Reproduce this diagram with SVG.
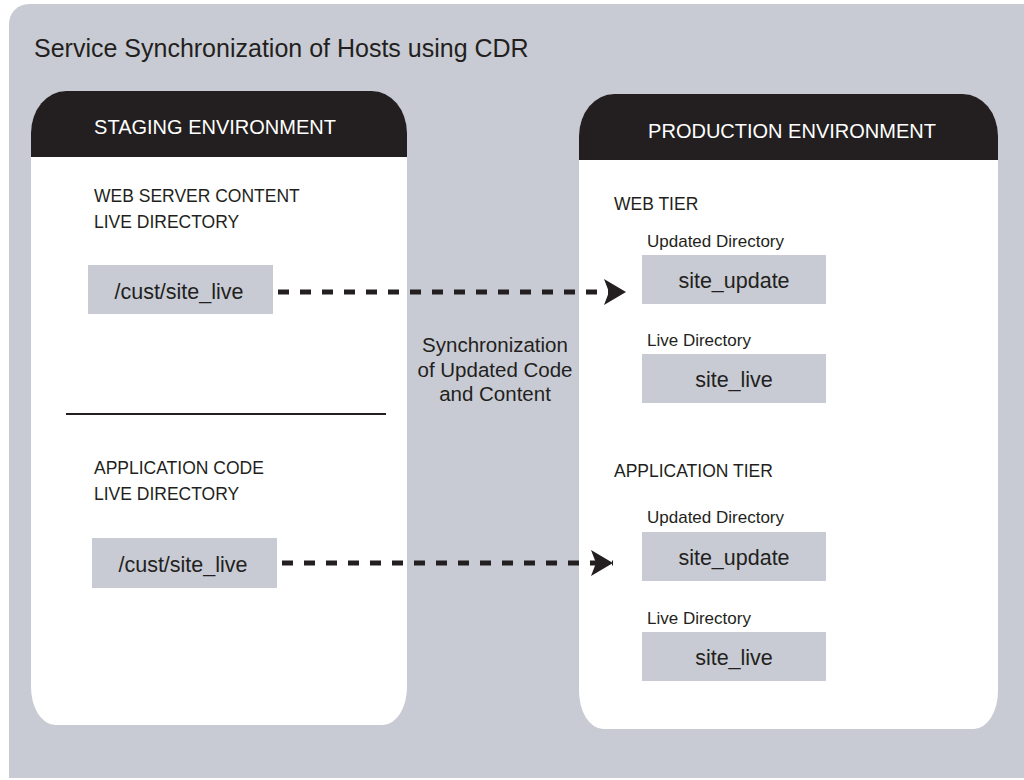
<svg xmlns="http://www.w3.org/2000/svg" width="1024" height="780" viewBox="0 0 1024 780">
  <defs>
    <style>
      text { font-family: "Liberation Sans", Arial, sans-serif; fill: #231f20; }
      .title { font-size: 25px; }
      .hdr { font-size: 20px; fill: #ffffff; text-anchor: middle; }
      .sec { font-size: 17.5px; }
      .lbl { font-size: 17px; }
      .box { fill: #c8cbd3; }
      .btxt { font-size: 21.5px; text-anchor: middle; }
      .sync { font-size: 20.5px; text-anchor: middle; }
      .panel { fill: #ffffff; }
      .head { fill: #231f20; }
      .dash { stroke: #231f20; stroke-width: 5; stroke-dasharray: 11 11; fill: none; }
    </style>
    <marker id="arrow" viewBox="0 0 22 26" refX="22" refY="13" markerWidth="22" markerHeight="26" markerUnits="userSpaceOnUse" orient="auto">
      <path d="M0,0 L22,13 L0,26 L5,13 Z" fill="#231f20"/>
    </marker>
  </defs>

  <path id="background" d="M9,24 A20,20 0 0 1 29,4 H1024 V778 H9 Z" fill="#c8cbd3"/>
  <text class="title" x="34" y="57">Service Synchronization of Hosts using CDR</text>

  <g id="staging">
    <path class="panel" d="M31,133 A35,42 0 0 1 66,91 H372 A35,42 0 0 1 407,133 V687 A24,38 0 0 1 383,725 H55 A24,38 0 0 1 31,687 Z"/>
    <path class="head" d="M31,157 V133 A35,42 0 0 1 66,91 H372 A35,42 0 0 1 407,133 V157 Z"/>
    <text class="hdr" x="215" y="134">STAGING ENVIRONMENT</text>
    <text class="sec" x="94" y="202">WEB SERVER CONTENT</text>
    <text class="sec" x="94" y="228">LIVE DIRECTORY</text>
    <line x1="66" y1="414" x2="386" y2="414" stroke="#231f20" stroke-width="2"/>
    <text class="sec" x="94" y="474">APPLICATION CODE</text>
    <text class="sec" x="94" y="500">LIVE DIRECTORY</text>
  </g>

  <g id="staging-web-dir">
    <rect class="box" x="88" y="265" width="185" height="49"/>
    <text class="btxt" x="179" y="299">/cust/site_live</text>
  </g>
  <g id="staging-app-dir">
    <rect class="box" x="92" y="538" width="185" height="50"/>
    <text class="btxt" x="183" y="572">/cust/site_live</text>
  </g>

  <g id="sync-label">
    <text class="sync" x="495" y="352">Synchronization</text>
    <text class="sync" x="495" y="377">of Updated Code</text>
    <text class="sync" x="495" y="401">and Content</text>
  </g>

  <g id="production">
    <path class="panel" d="M579,136 A35,42 0 0 1 614,94 H963 A35,42 0 0 1 998,136 V691 A24,38 0 0 1 974,729 H603 A24,38 0 0 1 579,691 Z"/>
    <path class="head" d="M579,160 V136 A35,42 0 0 1 614,94 H963 A35,42 0 0 1 998,136 V160 Z"/>
    <text class="hdr" x="792" y="138">PRODUCTION ENVIRONMENT</text>
    <text class="sec" x="614" y="210">WEB TIER</text>
    <text class="sec" x="614" y="477">APPLICATION TIER</text>
  </g>

  <g id="web-update">
    <text class="lbl" x="647" y="247">Updated Directory</text>
    <rect class="box" x="642" y="255" width="184" height="49"/>
    <text class="btxt" x="734" y="288">site_update</text>
  </g>
  <g id="web-live">
    <text class="lbl" x="647" y="346">Live Directory</text>
    <rect class="box" x="642" y="354" width="184" height="49"/>
    <text class="btxt" x="734" y="387">site_live</text>
  </g>
  <g id="app-update">
    <text class="lbl" x="647" y="523">Updated Directory</text>
    <rect class="box" x="642" y="532" width="184" height="49"/>
    <text class="btxt" x="734" y="565">site_update</text>
  </g>
  <g id="app-live">
    <text class="lbl" x="647" y="624">Live Directory</text>
    <rect class="box" x="642" y="632" width="184" height="49"/>
    <text class="btxt" x="734" y="665">site_live</text>
  </g>

  <g id="connectors">
    <line class="dash" x1="278" y1="292" x2="626" y2="292" marker-end="url(#arrow)"/>
    <line class="dash" x1="282" y1="563" x2="613" y2="563" marker-end="url(#arrow)"/>
  </g>
</svg>
